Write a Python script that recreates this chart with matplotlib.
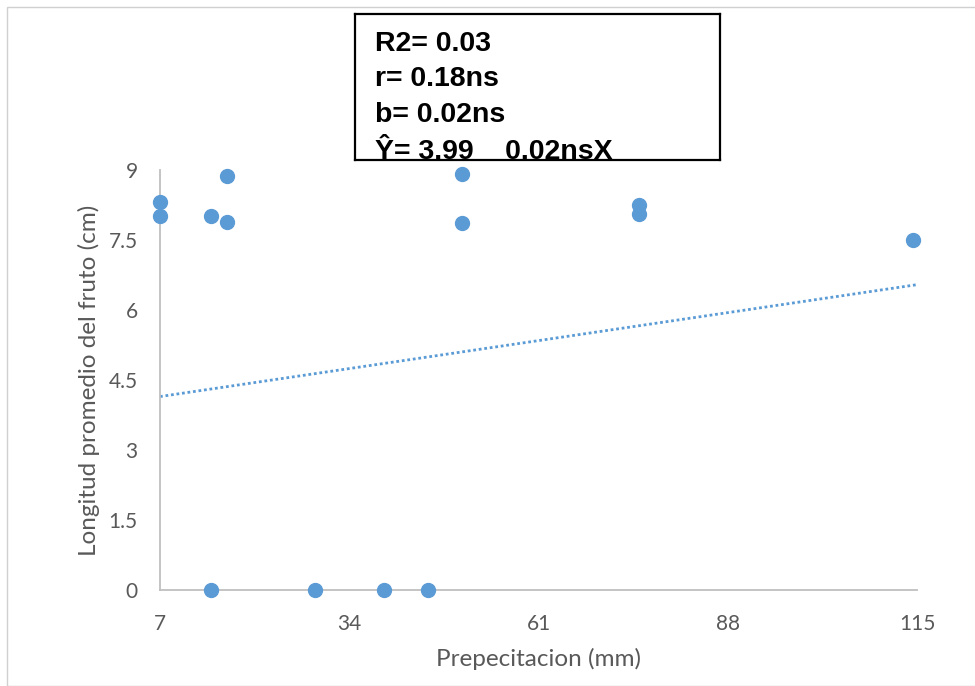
import numpy as np
import matplotlib.pyplot as plt
from matplotlib.patches import Rectangle

# data
precip = [7, 7, 14.3, 16.6, 16.6, 14.3, 29.1, 38.9, 45.3, 50.1, 50.1, 75.3, 75.3, 114.4]
longitud = [8.32, 8.02, 8.02, 8.88, 7.89, 0, 0, 0, 0, 8.91, 7.86, 8.24, 8.06, 7.51]

# regression line as printed in the box
intercept = 3.99
slope = 0.0222
x_ticks = [7, 34, 61, 88, 115]
y_ticks = [0, 1.5, 3, 4.5, 6, 7.5, 9]
y_tick_labels = ["0", "1.5", "3", "4.5", "6", "7.5", "9"]
stats_lines = ["R2= 0.03", "r= 0.18ns", "b= 0.02ns", "\u0176= 3.99    0.02nsX"]

W, H = 975, 686
blue = "#5B9BD5"
grey_txt = "#595959"

fig = plt.figure(figsize=(W / 100, H / 100), dpi=100)
fig.patch.set_facecolor("white")

# outer chart border
fig.patches.append(Rectangle((7 / W, 0), 1, 1 - 7 / H, transform=fig.transFigure,
                             fill=False, edgecolor="#D0D0D0", linewidth=1.0))

ax = fig.add_axes([160 / W, (H - 590) / H, 757 / W, 420 / H])
ax.scatter(precip, longitud, s=100, color=blue, zorder=3, clip_on=False)

xl = np.array([7, 115])
ax.plot(xl, intercept + slope * xl, color=blue, linestyle=(0, (1, 1)), linewidth=2.0)

ax.set_xlim(7, 115)
ax.set_ylim(0, 9)
ax.set_xticks(x_ticks)
ax.set_yticks(y_ticks)
ax.set_yticklabels(y_tick_labels)
for s in ["top", "right"]:
    ax.spines[s].set_visible(False)
for s in ["left", "bottom"]:
    ax.spines[s].set_color("#BFBFBF")
    ax.spines[s].set_linewidth(1.3)
ax.tick_params(length=0, labelsize=15, labelcolor=grey_txt)
ax.tick_params(axis="x", pad=17)
ax.tick_params(axis="y", pad=16)
for lab in ax.get_xticklabels() + ax.get_yticklabels():
    lab.set_family("Lato")

ax.set_xlabel("Prepecitacion (mm)", fontsize=17.5, color=grey_txt, family="Lato", labelpad=10)
ax.set_ylabel("Longitud promedio del fruto (cm)", fontsize=17.5, color=grey_txt, family="Lato", labelpad=6)

# statistics box, last line clipped by the frame
bx = fig.add_axes([355 / W, (H - 160) / H, 365 / W, 146 / H])
bx.set_xlim(0, 365)
bx.set_ylim(146, 0)
bx.set_xticks([])
bx.set_yticks([])
for s in bx.spines.values():
    s.set_color("black")
    s.set_linewidth(1.6)
baselines = [37, 72.5, 108, 145]
for txt, yb in zip(stats_lines, baselines):
    bx.text(20, yb, txt, fontsize=20.5, fontweight="bold", family="Liberation Sans",
            va="baseline", ha="left", clip_on=True)

fig.savefig("out.png", dpi=100)
